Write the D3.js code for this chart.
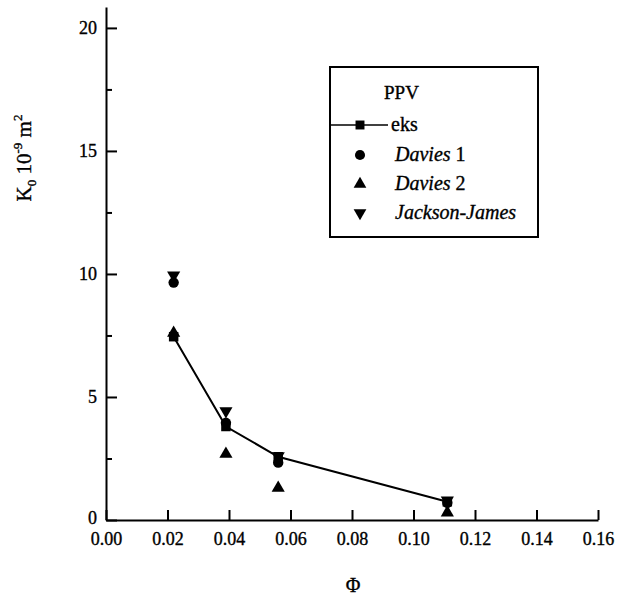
<!DOCTYPE html>
<html>
<head>
<meta charset="utf-8">
<script src="https://cdn.jsdelivr.net/npm/d3@7"></script>
<style>
  body { margin: 0; background: #fff; }
  svg { display: block; }
  svg text { font-family: "Liberation Serif", "Times New Roman", Times, "DejaVu Serif", serif; stroke: #000; stroke-width: 0.35px; }
  .axis path, .axis line { stroke: #000; stroke-width: 2; }
  .axis text { font-size: 18px; fill: #000; }
</style>
</head>
<body>
<svg id="chart" width="618" height="599"></svg>
<script>
// Φ values shared by all series
const phi = [0.022, 0.039, 0.056, 0.111];

// K0 (10^-9 m^2) per series
const eks = [7.45, 3.8, 2.57, 0.74];
const davies1 = [9.65, 3.95, 2.33, 0.7];
const davies2 = [7.6, 2.68, 1.3, 0.3];
const jacksonJames = [9.95, 4.43, 2.6, 0.8];

const xTicks = [0, 0.02, 0.04, 0.06, 0.08, 0.10, 0.12, 0.14, 0.16];
const yTicks = [0, 5, 10, 15, 20];
const yMinorTicks = [2.5, 7.5, 12.5, 17.5];

const svg = d3.select("#chart");

const x = d3.scaleLinear().domain([0, 0.16]).range([106, 598]);
const y = d3.scaleLinear().domain([0, 20.85]).range([520, 7]);

// y axis, ticks pointing inward
svg.append("g")
  .attr("class", "axis")
  .attr("transform", "translate(106,0)")
  .call(d3.axisLeft(y).tickValues(yTicks).tickSizeInner(-11).tickSizeOuter(0).tickPadding(9).tickFormat(d3.format("d")))
  .call(g => g.selectAll(".tick text").filter(d => d === 0).attr("dy", "0.2em"));

svg.append("g")
  .attr("class", "axis")
  .attr("transform", "translate(106,0)")
  .call(d3.axisLeft(y).tickValues(yMinorTicks).tickSizeInner(-6).tickSizeOuter(0).tickFormat(""))
  .call(g => g.select(".domain").remove());

// x axis
svg.append("g")
  .attr("class", "axis")
  .attr("transform", "translate(0,520)")
  .call(d3.axisBottom(x).tickValues(xTicks).tickSizeInner(-10).tickSizeOuter(0).tickPadding(12).tickFormat(d3.format(".2f")));

svg.selectAll(".axis").attr("font-family", null).attr("font-size", null);

// axis titles
svg.append("text")
  .attr("transform", "translate(31,158) rotate(-90)")
  .attr("text-anchor", "middle")
  .style("font-size", "21px")
  .html('K<tspan dy="5" font-size="13px">0</tspan><tspan dy="-5"> 10</tspan><tspan dy="-9" font-size="13px">-9</tspan><tspan dy="9"> m</tspan><tspan dy="-9" font-size="13px">2</tspan>');

svg.append("text")
  .attr("x", 353)
  .attr("y", 592)
  .attr("text-anchor", "middle")
  .style("font-size", "20px")
  .text("Φ");

const sym = (type, size) => d3.symbol().type(type).size(size)();

// scatter series
const series = [
  { values: davies1, path: sym(d3.symbolCircle, 85), rot: 0 },
  { values: jacksonJames, path: sym(d3.symbolTriangle, 75), rot: 180 },
  { values: davies2, path: sym(d3.symbolTriangle, 75), rot: 0 }
];

series.forEach(s => {
  svg.append("g")
    .selectAll("path")
    .data(s.values)
    .enter().append("path")
    .attr("d", s.path)
    .attr("transform", (d, i) => `translate(${x(phi[i])},${y(d)}) rotate(${s.rot})`)
    .attr("fill", "#000");
});

// eks line + squares
const line = d3.line().x((d, i) => x(phi[i])).y(d => y(d));
svg.append("path")
  .datum(eks)
  .attr("d", line)
  .attr("fill", "none")
  .attr("stroke", "#000")
  .attr("stroke-width", 2);

svg.append("g")
  .selectAll("path")
  .data(eks)
  .enter().append("path")
  .attr("d", sym(d3.symbolSquare, 90))
  .attr("transform", (d, i) => `translate(${x(phi[i])},${y(d)})`)
  .attr("fill", "#000");

// legend
const legend = svg.append("g");
legend.append("rect")
  .attr("x", 330).attr("y", 67)
  .attr("width", 208).attr("height", 170)
  .attr("fill", "#fff")
  .attr("stroke", "#000")
  .attr("stroke-width", 2);

legend.append("text")
  .attr("x", 384).attr("y", 99)
  .style("font-size", "19px")
  .text("PPV");

const items = [
  { name: "eks", num: "", italic: false, path: sym(d3.symbolSquare, 80), rot: 0, line: true },
  { name: "Davies", num: " 1", italic: true, path: sym(d3.symbolCircle, 80), rot: 0 },
  { name: "Davies", num: " 2", italic: true, path: sym(d3.symbolTriangle, 70), rot: 0 },
  { name: "Jackson-James", num: "", italic: true, path: sym(d3.symbolTriangle, 70), rot: 180 }
];
const rowY = [125, 155, 184, 213];

items.forEach((it, i) => {
  const g = legend.append("g").attr("transform", `translate(0,${rowY[i]})`);
  if (it.line) {
    g.append("line").attr("x1", 330).attr("x2", 388).attr("y1", 0).attr("y2", 0)
      .attr("stroke", "#000").attr("stroke-width", 1.5);
  }
  g.append("path").attr("d", it.path)
    .attr("transform", `translate(360,0) rotate(${it.rot})`)
    .attr("fill", "#000");
  const t = g.append("text")
    .attr("x", it.line ? 391 : 395).attr("y", 6)
    .style("font-size", "20px");
  t.append("tspan").style("font-style", it.italic ? "italic" : "normal").text(it.name);
  if (it.num) t.append("tspan").text(it.num);
});
</script>
</body>
</html>
